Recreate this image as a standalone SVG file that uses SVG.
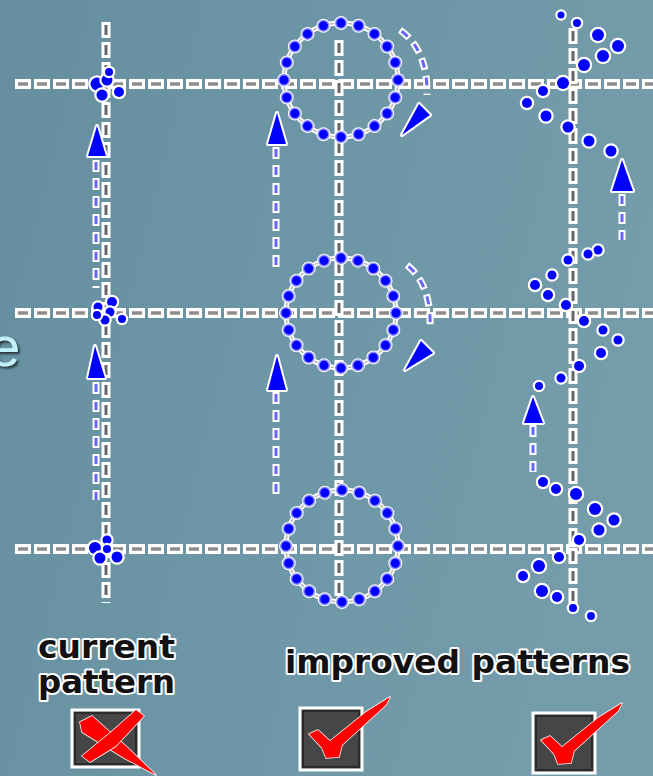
<svg xmlns="http://www.w3.org/2000/svg" width="653" height="776" viewBox="0 0 653 776">
<defs>
<linearGradient id="bg" x1="0" y1="0" x2="1" y2="0.3">
<stop offset="0" stop-color="#658fa0"/>
<stop offset="1" stop-color="#749cab"/>
</linearGradient>
<filter id="shadow" x="-0.2" y="-0.2" width="1.5" height="1.5">
<feDropShadow dx="2" dy="2" stdDeviation="0.8" flood-color="#1e2a30" flood-opacity="0.9"/>
</filter>
<style>
.hw{stroke:#fff;stroke-width:10;stroke-dasharray:16 3;fill:none}
.hg{stroke:#8c8c8c;stroke-width:3.5;stroke-dasharray:10 9;stroke-dashoffset:-3;fill:none}
.vw{stroke:#fff;stroke-width:9;stroke-dasharray:16 4;fill:none}
.vg{stroke:#666;stroke-width:3;stroke-dasharray:10 10;stroke-dashoffset:-3;fill:none}
.ring{fill:none;stroke:#fff;stroke-width:5}
.ringg{fill:none;stroke:#b8b8b0;stroke-width:1.5}
.dh{fill:none;stroke:#fff;stroke-width:14;stroke-dasharray:0 1;stroke-linecap:round}
.dl{fill:none;stroke:#8c8cff;stroke-width:12;stroke-dasharray:0 1;stroke-linecap:round}
.db{fill:none;stroke:#0000ff;stroke-width:9;stroke-dasharray:0 1;stroke-linecap:round}
.sw{fill:none;stroke:#fff;stroke-width:7;stroke-dasharray:12 6}
.sb{fill:none;stroke:#6666ff;stroke-width:3;stroke-dasharray:8 10;stroke-dashoffset:-2}
.ah{fill:#0000ff;stroke:#fff;stroke-width:4;paint-order:stroke;stroke-linejoin:round}
.d{fill:#0000ff;stroke:#fff;stroke-width:4.5;paint-order:stroke}
.lbl{font-family:"DejaVu Sans",sans-serif;font-weight:bold;font-size:32px;fill:#111;stroke:#fff;stroke-width:4;paint-order:stroke;stroke-linejoin:round}
.box{fill:#464646;stroke:#fff;stroke-width:3}
.boxi{fill:none;stroke:#2a2a2a;stroke-width:2}
.red{fill:#ff0000;stroke:#fff;stroke-width:1.5;paint-order:stroke;stroke-linejoin:round}
</style>
</defs>
<rect width="653" height="776" fill="url(#bg)"/>

<g id="grid">
<path class="hw" d="M15 84H653M15 313H653M15 549H653"/>
<path class="hg" d="M15 84H653M15 313H653M15 549H653"/>
<path class="vw" d="M106 22V603M339 40V602M573 28V612"/>
<path class="vg" d="M106 22V603M339 40V602M573 28V612"/>
</g>

<g id="current-pattern">
<path class="sw" d="M96 160V288M96 382V500"/>
<path class="sb" d="M96 160V288M96 382V500"/>
<polygon class="ah" points="97,126 88,156 106,156"/>
<polygon class="ah" points="95,346 88,378 105,378"/>
<g id="cluster-1">
<circle class="d" cx="97" cy="84" r="6.5"/><circle class="d" cx="107" cy="80" r="5.5"/><circle class="d" cx="109" cy="72" r="4"/><circle class="d" cx="102" cy="95" r="5.5"/><circle class="d" cx="119" cy="92" r="5"/>
</g>
<g id="cluster-2">
<circle class="d" cx="98" cy="307" r="4.5"/><circle class="d" cx="112" cy="302" r="5"/><circle class="d" cx="110" cy="312" r="4.5"/><circle class="d" cx="105" cy="320" r="4.5"/><circle class="d" cx="122" cy="319" r="4"/><circle class="d" cx="97" cy="315" r="4"/>
</g>
<g id="cluster-3">
<circle class="d" cx="95" cy="548" r="6"/><circle class="d" cx="100" cy="558" r="5.5"/><circle class="d" cx="107" cy="540" r="4.5"/><circle class="d" cx="117" cy="557" r="5.5"/><circle class="d" cx="107" cy="549" r="4"/>
</g>
</g>

<g id="improved-pattern-1">
<path class="sw" d="M276 147V270M276 392V500M400 30Q428 50 427 95M407 265Q432 285 430 330"/>
<path class="sb" d="M276 147V270M276 392V500M400 30Q428 50 427 95M407 265Q432 285 430 330"/>
<polygon class="ah" points="277,113 268,144 286,144"/>
<polygon class="ah" points="277,356 268,390 286,390"/>
<polygon class="ah" points="402,135 419,104 430,115"/>
<polygon class="ah" points="405,370 421,341 433,353"/>
<g id="circle-1">
<circle class="ring" cx="341" cy="80" r="57"/><circle class="ringg" cx="341" cy="80" r="57"/>
<circle class="dh" cx="341" cy="80" r="57" pathLength="20"/><circle class="dl" cx="341" cy="80" r="57" pathLength="20"/><circle class="db" cx="341" cy="80" r="57" pathLength="20"/>
</g>
<g id="circle-2">
<circle class="ring" cx="341" cy="313" r="55"/><circle class="ringg" cx="341" cy="313" r="55"/>
<circle class="dh" cx="341" cy="313" r="55" pathLength="20"/><circle class="dl" cx="341" cy="313" r="55" pathLength="20"/><circle class="db" cx="341" cy="313" r="55" pathLength="20"/>
</g>
<g id="circle-3">
<circle class="ring" cx="342" cy="546" r="56"/><circle class="ringg" cx="342" cy="546" r="56"/>
<circle class="dh" cx="342" cy="546" r="56" pathLength="20"/><circle class="dl" cx="342" cy="546" r="56" pathLength="20"/><circle class="db" cx="342" cy="546" r="56" pathLength="20"/>
</g>
</g>

<g id="improved-pattern-2">
<path class="sw" d="M622 194V240M533 425V472"/>
<path class="sb" d="M622 194V240M533 425V472"/>
<polygon class="ah" points="622,160 612,191 633,191"/>
<polygon class="ah" points="533,397 524,423 543,423"/>
<circle class="d" cx="561" cy="15" r="3.5"/><circle class="d" cx="577" cy="23" r="4"/><circle class="d" cx="598" cy="35" r="6"/><circle class="d" cx="618" cy="46" r="6"/><circle class="d" cx="603" cy="56" r="6"/><circle class="d" cx="584" cy="65" r="6"/><circle class="d" cx="563" cy="83" r="6"/><circle class="d" cx="543" cy="91" r="5"/><circle class="d" cx="527" cy="103" r="5"/><circle class="d" cx="546" cy="116" r="5.5"/><circle class="d" cx="568" cy="127" r="5.5"/><circle class="d" cx="589" cy="141" r="5.5"/><circle class="d" cx="611" cy="151" r="5.5"/>
<circle class="d" cx="598" cy="250" r="4.5"/><circle class="d" cx="588" cy="254" r="4.5"/><circle class="d" cx="568" cy="260" r="4.5"/><circle class="d" cx="552" cy="275" r="4.5"/><circle class="d" cx="535" cy="285" r="5"/><circle class="d" cx="548" cy="295" r="5"/><circle class="d" cx="566" cy="305" r="5"/><circle class="d" cx="584" cy="321" r="5"/><circle class="d" cx="603" cy="330" r="4.5"/><circle class="d" cx="618" cy="340" r="4.5"/><circle class="d" cx="601" cy="353" r="5"/><circle class="d" cx="579" cy="366" r="5"/><circle class="d" cx="561" cy="378" r="4.5"/><circle class="d" cx="539" cy="386" r="4"/>
<circle class="d" cx="543" cy="482" r="5"/><circle class="d" cx="556" cy="489" r="5"/><circle class="d" cx="576" cy="494" r="6"/><circle class="d" cx="595" cy="509" r="6"/><circle class="d" cx="614" cy="520" r="5.5"/><circle class="d" cx="599" cy="530" r="5.5"/><circle class="d" cx="579" cy="540" r="5"/><circle class="d" cx="559" cy="557" r="5"/><circle class="d" cx="539" cy="566" r="6"/><circle class="d" cx="523" cy="576" r="5"/><circle class="d" cx="542" cy="591" r="6"/><circle class="d" cx="557" cy="597" r="5"/><circle class="d" cx="573" cy="608" r="4"/><circle class="d" cx="591" cy="616" r="4"/>
</g>

<g id="labels">
<text x="-11" y="366" font-family="Liberation Sans, sans-serif" font-size="56" fill="#c2f0fb" filter="url(#shadow)">e</text>
<text class="lbl" x="38" y="658" textLength="137" lengthAdjust="spacingAndGlyphs">current</text>
<text class="lbl" x="38" y="693" textLength="137" lengthAdjust="spacingAndGlyphs">pattern</text>
<text class="lbl" x="285" y="673" textLength="345" lengthAdjust="spacingAndGlyphs">improved patterns</text>
</g>

<g id="check-current">
<rect class="box" x="72" y="710" width="67" height="57"/><rect class="boxi" x="75" y="713" width="61" height="51"/>
<polygon class="red" points="80,722 92,716 128,748 156,775 124,758 82,732"/>
<polygon class="red" points="136,710 144,716 116,746 90,762 82,756 110,733"/>
</g>
<g id="check-improved-1">
<rect class="box" x="300" y="708" width="62" height="62"/><rect class="boxi" x="303" y="711" width="56" height="56"/>
<polygon class="red" points="309,734 318,730 330,741 366,712 390,697 386,705 342,745 339,757 326,758 322,748"/>
</g>
<g id="check-improved-2">
<rect class="box" x="533" y="713" width="62" height="60"/><rect class="boxi" x="536" y="716" width="56" height="54"/>
<polygon class="red" transform="translate(232,6)" points="309,734 318,730 330,741 366,712 390,697 386,705 342,745 339,757 326,758 322,748"/>
</g>
</svg>
